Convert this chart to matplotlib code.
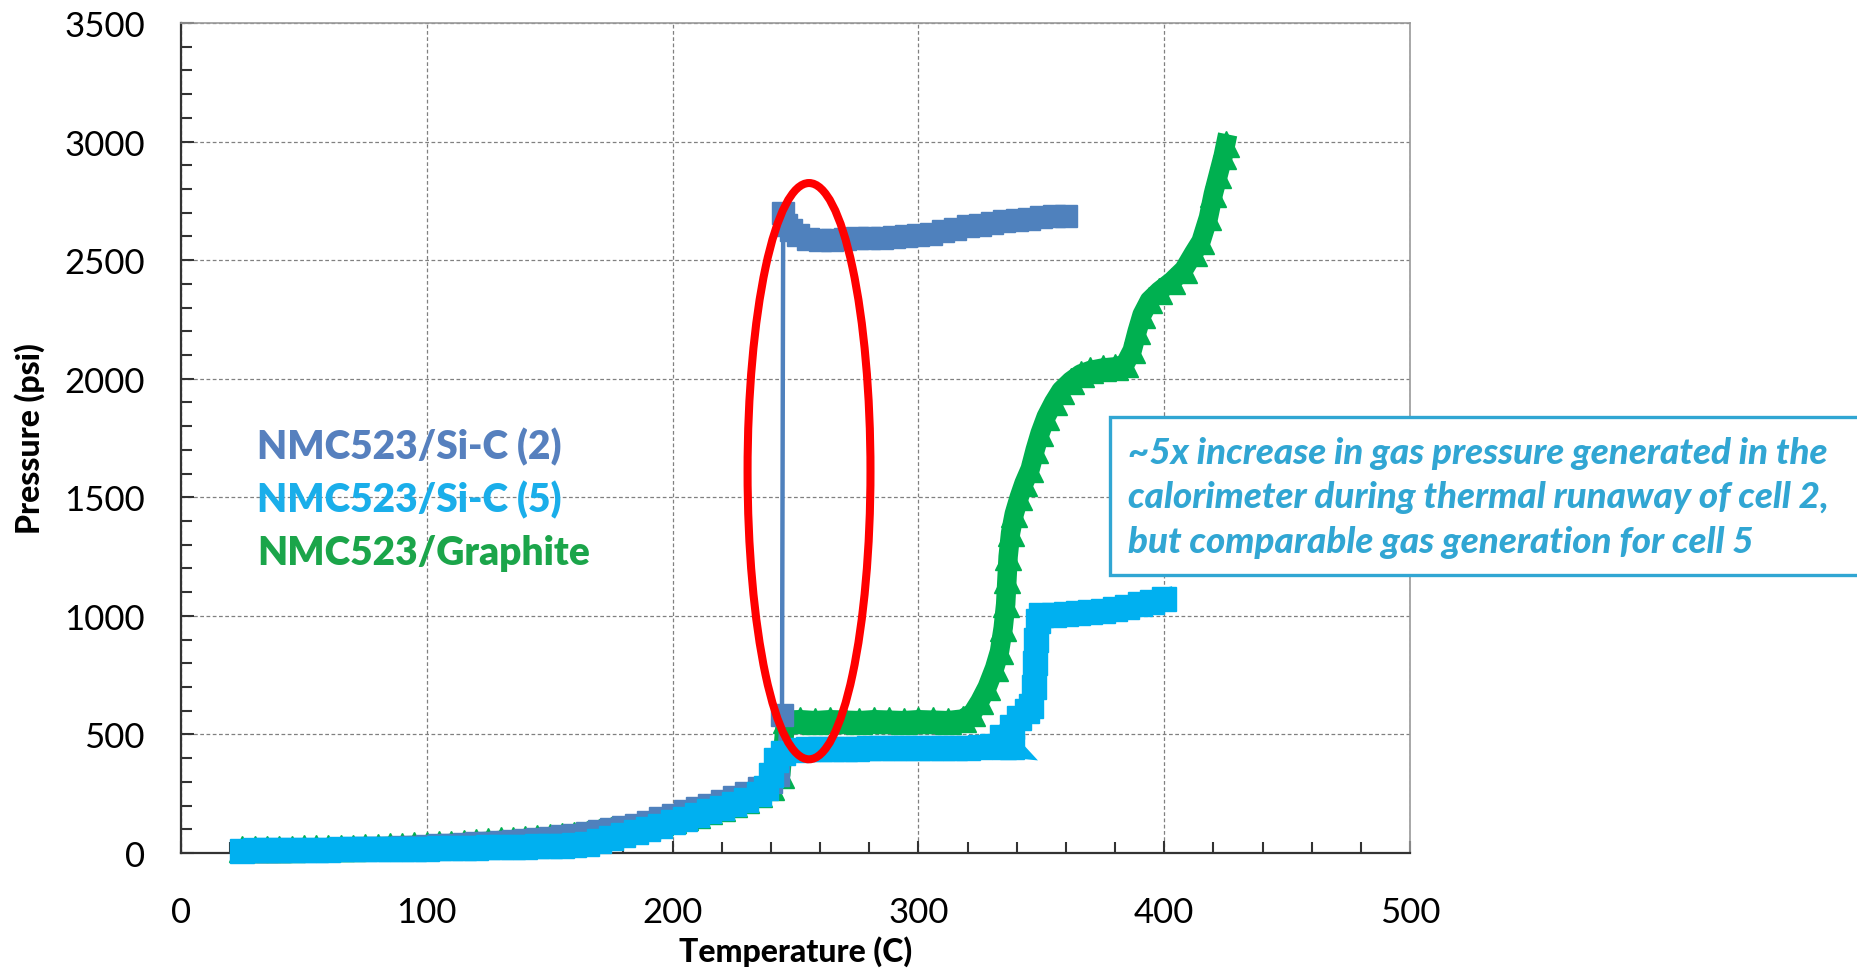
import matplotlib
matplotlib.use("Agg")
import matplotlib.pyplot as plt
from matplotlib.patches import Ellipse, Rectangle
from matplotlib.ticker import MultipleLocator

plt.rcParams['font.family'] = ['Lato', 'DejaVu Sans']

# NMC523/Si-C (2)
temp_sic2 = [25, 30, 35, 40, 45, 50, 55, 60, 65, 70, 75, 80, 85, 90, 95, 100,
             105, 110, 115, 120, 125, 130, 135, 140, 145, 150, 155, 160, 165,
             170, 175, 180, 185, 190, 195, 200, 205, 210, 215, 220, 225, 230,
             235, 240, 243, 244.5, 245, 246, 248, 251, 255, 260, 265, 270, 275,
             280, 285, 290, 295, 300, 305, 310, 315, 320, 325, 330, 335, 340,
             345, 350, 355, 360]
pres_sic2 = [8, 8, 9, 10, 11, 12, 13, 14, 15, 17, 19, 21, 23, 25, 27, 29,
             32, 35, 38, 41, 44, 48, 52, 56, 60, 65, 70, 76, 83,
             92, 100, 110, 120, 132, 148, 162, 175, 188, 203, 218, 235, 255,
             275, 300, 330, 580, 2700, 2650, 2625, 2605, 2590, 2585, 2585, 2590, 2592,
             2595, 2595, 2598, 2600, 2605, 2612, 2622, 2632, 2642, 2650, 2658, 2664, 2670,
             2675, 2680, 2684, 2688]

# NMC523/Si-C (5)
temp_sic5 = [25, 30, 35, 40, 45, 50, 55, 60, 65, 70, 75, 80, 85, 90, 95, 100,
             105, 110, 115, 120, 125, 130, 135, 140, 145, 150, 155, 160, 165,
             170, 175, 180, 185, 190, 195, 200, 205, 210, 215, 220, 225, 230,
             235, 238, 240, 242, 245, 250, 255, 260, 265, 270, 275, 280, 285,
             290, 295, 300, 305, 310, 315, 320, 325, 330, 335, 338, 334, 338,
             341, 344, 346, 347, 347.5, 348, 348.5, 350, 355, 360, 365, 370,
             375, 380, 385, 390, 395, 400]
pres_sic5 = [10, 11, 11, 12, 12, 13, 13, 14, 15, 15, 16, 17, 17, 18, 18, 18,
             19, 20, 21, 22, 24, 25, 26, 27, 28, 28, 30, 33, 38,
             52, 63, 75, 88, 100, 115, 130, 145, 160, 175, 190, 208, 225,
             250, 275, 330, 390, 420, 435, 440, 440, 440, 440, 440, 441, 441,
             441, 441, 441, 442, 442, 442, 443, 446, 450, 448, 445, 490, 530,
             570, 600, 620, 700, 800, 900, 980, 1005, 1005, 1008, 1012, 1018,
             1022, 1030, 1038, 1048, 1060, 1072]

# NMC523/Graphite
temp_graph = [25, 30, 35, 40, 45, 50, 55, 60, 65, 70, 75, 80, 85, 90, 95, 100,
              105, 110, 115, 120, 125, 130, 135, 140, 145, 150, 155, 160, 165,
              170, 175, 180, 185, 190, 195, 200, 205, 210, 215, 220, 225, 230,
              235, 240, 244, 246, 252, 258, 264, 270, 276, 282, 288, 294, 300,
              306, 312, 318, 322, 325, 328, 331, 333, 334.5, 335.5, 336, 336.5,
              337.5, 339, 341, 343, 345.5, 347.5, 349.5, 352, 355, 358, 362,
              366, 370, 375, 380, 384, 387, 389, 391, 394, 398, 403, 408, 412,
              415, 418, 420, 422, 424, 425]
pres_graph = [15, 15, 16, 17, 18, 19, 20, 21, 22, 23, 24, 26, 28, 30, 32, 35,
              37, 40, 43, 46, 49, 53, 56, 60, 63, 67, 71, 76, 82,
              88, 95, 103, 111, 120, 130, 140, 151, 162, 176, 190, 207, 225,
              250, 280, 330, 560, 562, 558, 562, 560, 558, 562, 560, 558, 562,
              560, 558, 565, 590, 640, 700, 780, 850, 950, 1050, 1150, 1250,
              1350, 1430, 1500, 1560, 1620, 1700, 1770, 1840, 1900, 1950, 1990,
              2020, 2035, 2045, 2050, 2060, 2120, 2200, 2270, 2330, 2370, 2410, 2460, 2530,
              2580, 2680, 2780, 2860, 2940, 2990]

fig = plt.figure(figsize=(18.58, 9.70), dpi=100)
ax = fig.add_axes([0.0974, 0.1196, 0.6615, 0.8557])

ax.plot(temp_graph, pres_graph, color='#00B050', lw=14, marker='^', ms=19,
        mec='#00B050', clip_on=False, zorder=3, solid_joinstyle='round')
ax.plot(temp_sic2, pres_sic2, color='#4F81BD', lw=3.2, marker='s', ms=15.5,
        mec='#4F81BD', clip_on=False, zorder=4)
ax.plot(temp_sic5, pres_sic5, color='#00B0F0', lw=15, marker='s', ms=17.5,
        mec='#00B0F0', clip_on=False, zorder=5, solid_joinstyle='miter')

ax.add_patch(Ellipse((255.5, 1610), 50, 2430, fill=False, ec='#FF0000',
                     lw=5.8, zorder=6, clip_on=False))

ax.set_xlim(0, 500)
ax.set_ylim(0, 3500)
ax.xaxis.set_major_locator(MultipleLocator(100))
ax.xaxis.set_minor_locator(MultipleLocator(20))
ax.yaxis.set_major_locator(MultipleLocator(500))
ax.yaxis.set_minor_locator(MultipleLocator(100))
ax.tick_params(which='both', direction='in', top=False, right=False,
               width=1.5, color='#333333')
ax.tick_params(which='major', length=9, labelsize=25)
ax.tick_params(which='minor', length=8)
ax.tick_params(axis='y', pad=26)
ax.tick_params(axis='x', pad=31)
ax.grid(True, which='major', color='#808080', ls=(0, (3, 2)), lw=0.9)
ax.set_axisbelow(True)
for s in ['left', 'bottom']:
    ax.spines[s].set_color('#333333')
    ax.spines[s].set_linewidth(1.6)
for s in ['top', 'right']:
    ax.spines[s].set_color('#999999')
    ax.spines[s].set_linewidth(1.2)

ax.set_xlabel('Temperature (C)', fontsize=23, fontweight='black', va='center')
ax.set_ylabel('Pressure (psi)', fontsize=23, fontweight='black', va='center')
ax.xaxis.set_label_coords(0.5, -0.118)
ax.yaxis.set_label_coords(-0.123, 0.5)

ax.text(31, 1715, 'NMC523/Si-C (2)', color='#5680BE', fontsize=28,
        fontweight='heavy', va='center')
ax.text(31, 1490, 'NMC523/Si-C (5)', color='#1AAEEA', fontsize=28,
        fontweight='heavy', va='center')
ax.text(31, 1265, 'NMC523/Graphite', color='#1BA54A', fontsize=28,
        fontweight='heavy', va='center')

fig.patches.append(Rectangle((1110 / 1858, 394 / 970), 760 / 1858, 158 / 970,
                             transform=fig.transFigure, fill=True, fc='white',
                             ec='#31A6D3', lw=2.4, zorder=7))
fig.text(1128 / 1858, 472 / 970,
         '~5x increase in gas pressure generated in the\n'
         'calorimeter during thermal runaway of cell 2,\n'
         'but comparable gas generation for cell 5',
         color='#31A6D3', fontsize=26.5, fontweight='black', fontstyle='italic',
         va='center', ha='left', linespacing=1.42, zorder=8)

fig.savefig('out.png', dpi=100)
